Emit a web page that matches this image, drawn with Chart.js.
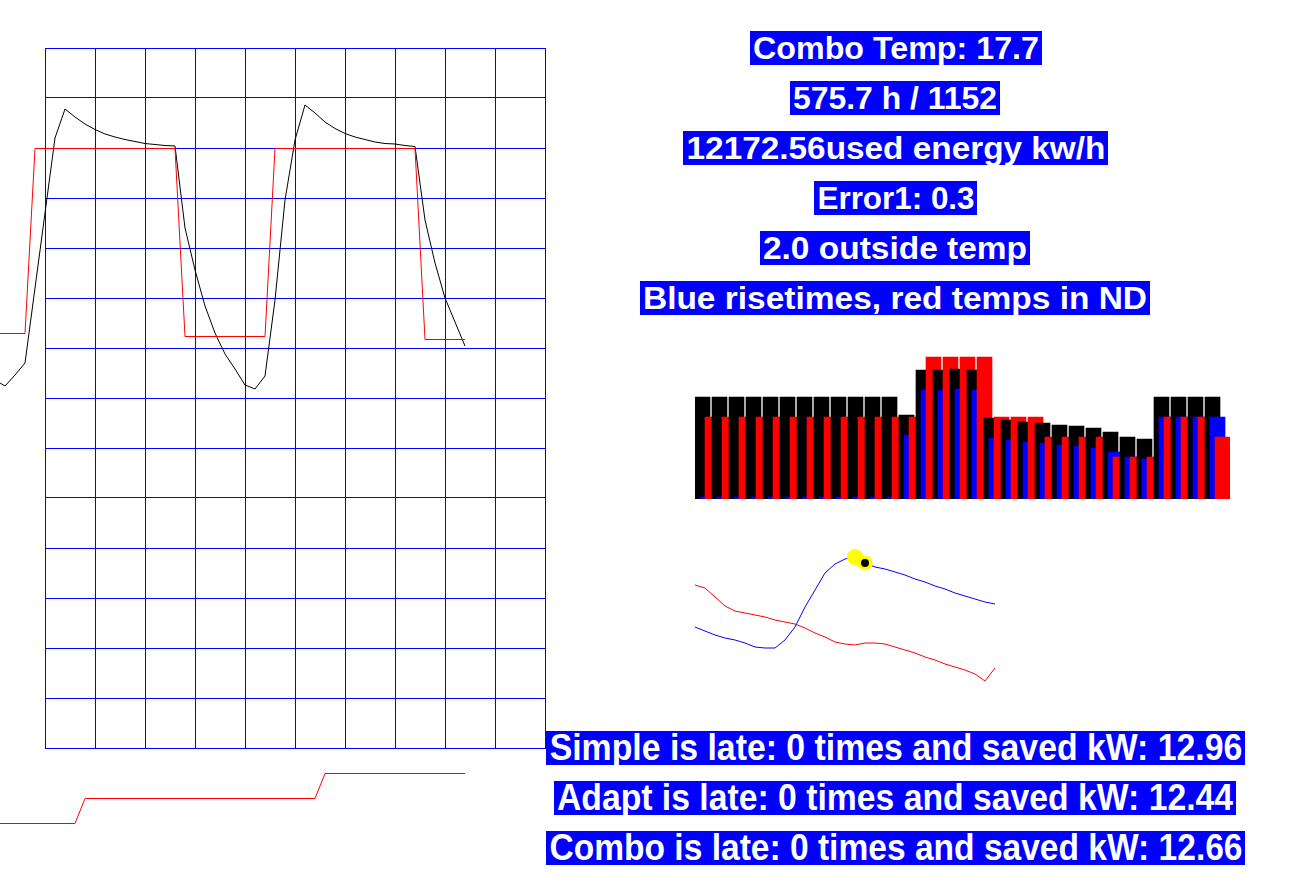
<!DOCTYPE html>
<html>
<head>
<meta charset="utf-8">
<script src="https://cdn.jsdelivr.net/npm/chart.js@4.4.1/dist/chart.umd.min.js"></script>
<style>
  body { margin: 0; background: #fff; width: 1307px; height: 896px; overflow: hidden; position: relative; }
  canvas { position: absolute; }
  .tag { position: absolute; height: 34px; background: #0000ff; overflow: hidden; }
  .tag span { position: absolute; left: 50%; top: 0; line-height: 34px; white-space: nowrap; color: #fff;
              font-family: "Liberation Sans", Arial, sans-serif; font-weight: bold; transform-origin: center; }
</style>
</head>
<body>
<canvas id="curva" width="560" height="840" style="left:0;top:0"></canvas>
<canvas id="barras" width="535" height="160" style="left:695px;top:339px"></canvas>
<canvas id="tendencia" width="310" height="150" style="left:690px;top:540px"></canvas>
<script>
// curva principal: temperatura medida (negro), consigna (rojo) y modo (rojo abajo)
const tempMedida = [7.36, 7.24, 7.46, 7.70, 9.20, 10.70, 12.20, 12.78, 12.62, 12.48, 12.37, 12.28, 12.22, 12.17, 12.13, 12.09,
  12.07, 12.05, 12.04, 10.40, 9.56, 8.84, 8.30, 7.88, 7.58, 7.26, 7.18, 7.44, 8.96, 10.96, 12.16, 12.86,
  12.70, 12.52, 12.39, 12.29, 12.22, 12.17, 12.12, 12.09, 12.08, 12.05, 12.03, 10.56, 9.70, 9.00, 8.52, 8.04];
const consigna = [8.29, 8.29, 8.29, 8.29, 11.99, 11.99, 11.99, 11.99, 11.99, 11.99, 11.99, 11.99, 11.99, 11.99, 11.99, 11.99,
  11.99, 11.99, 11.99, 8.23, 8.23, 8.23, 8.23, 8.23, 8.23, 8.23, 8.23, 8.23, 11.99, 11.99, 11.99, 11.99,
  11.99, 11.99, 11.99, 11.99, 11.99, 11.99, 11.99, 11.99, 11.99, 11.99, 11.99, 8.17, 8.17, 8.17, 8.17, 8.17];
const modo = [-1.51, -1.51, -1.51, -1.51, -1.51, -1.51, -1.51, -1.51, -1.51, -1.01, -1.01, -1.01, -1.01, -1.01, -1.01, -1.01,
  -1.01, -1.01, -1.01, -1.01, -1.01, -1.01, -1.01, -1.01, -1.01, -1.01, -1.01, -1.01, -1.01, -1.01, -1.01, -1.01,
  -1.01, -0.51, -0.51, -0.51, -0.51, -0.51, -0.51, -0.51, -0.51, -0.51, -0.51, -0.51, -0.51, -0.51, -0.51, -0.51];

// barras: negro, azul (risetimes), rojo (temps in ND)
const negro = [5, 5, 5, 5, 5, 5, 5, 5, 5, 5, 5, 5, 4.1, 6.35, 6.35, 6.4, 6.35,
  3.95, 3.85, 3.75, 3.7, 3.6, 3.55, 3.45, 3.25, 3.0, 2.9, 5, 5, 5, 5];
const azul = [0, 0, 0, 0, 0, 0, 0, 0, 0, 0, 0, 0, 3.1, 5.35, 5.35, 5.4, 5.35,
  2.95, 2.85, 2.75, 2.7, 2.6, 2.55, 2.45, 2.25, 2.0, 1.9, 4, 4, 4, 4];
const rojo = [4, 4, 4, 4, 4, 4, 4, 4, 4, 4, 4, 4, 4, 7, 7, 7, 7,
  4, 4, 4, 3, 3, 3, 3, 2, 2, 2, 4, 4, 4, 3];

// tendencia pequeña
const lineaAzul = [6.3, 5.9, 5.5, 5.2, 5.0, 4.7, 4.3, 4.2, 4.2, 5.0, 6.3, 8.3, 10.0, 11.7, 12.6, 13.1,
  13.3, 12.7, 12.3, 12.1, 11.8, 11.5, 11.1, 10.8, 10.4, 10.1, 9.7, 9.4, 9.1, 8.8, 8.6];
const lineaRoja = [10.5, 10.2, 9.3, 8.4, 7.9, 7.7, 7.5, 7.3, 7.0, 6.8, 6.6, 6.2, 5.7, 5.3, 4.8, 4.6,
  4.5, 4.7, 4.7, 4.6, 4.3, 4.0, 3.7, 3.3, 3.0, 2.6, 2.3, 2.0, 1.6, 0.9, 2.2];

const textos = [
  'Combo Temp: 17.7',
  '575.7 h / 1152',
  '12172.56used energy kw/h',
  'Error1: 0.3',
  '2.0 outside temp',
  'Blue risetimes, red temps in ND',
  'Simple is late: 0 times and saved kW: 12.96',
  'Adapt is late: 0 times and saved kW: 12.44',
  'Combo is late: 0 times and saved kW: 12.66'
];
// caja de cada texto: [izquierda, arriba, ancho, tamaño de letra]
const cajas = [
  [750, 31, 292, 32], [790, 81, 210, 32], [683, 131, 425, 32], [814, 181, 163, 32],
  [760, 231, 270, 32], [640, 281, 510, 32],
  [546, 731, 699, 36], [554, 781, 682, 36], [546, 831, 699, 36]
];

const AZUL = '#0000ff', ROJO = '#ff0000', NEGRO = '#000000', AMARILLO = '#ffff00';
const sinEventos = { responsive: false, animation: false, events: [] };
const sinPlugins = { legend: { display: false }, tooltip: { enabled: false } };

function pintarTextos() {
  const medir = document.createElement('canvas').getContext('2d');
  textos.forEach((t, i) => {
    const [x, y, ancho, tam] = cajas[i];
    const caja = document.createElement('div');
    caja.className = 'tag';
    caja.style.left = x + 'px';
    caja.style.top = y + 'px';
    caja.style.width = ancho + 'px';
    const span = document.createElement('span');
    span.textContent = t;
    span.style.fontSize = tam + 'px';
    medir.font = 'bold ' + tam + 'px "Liberation Sans"';
    const k = (ancho - 6) / medir.measureText(t).width;
    span.style.transform = 'translateX(-50%) scaleX(' + k.toFixed(3) + ')';
    caja.appendChild(span);
    document.body.appendChild(caja);
  });
}

function curvaPrincipal() {
  const minutos = tempMedida.map((_, i) => i * 10 - 50);
  const serie = (vals, color) => ({
    data: vals.map((v, i) => ({ x: minutos[i], y: v })),
    borderColor: color, borderWidth: 1, pointRadius: 0, tension: 0, clip: false, fill: false
  });
  const rejilla = { color: AZUL, lineWidth: 1, drawTicks: false };
  new Chart(document.getElementById('curva'), {
    type: 'line',
    data: { datasets: [serie(consigna, ROJO), serie(modo, ROJO), serie(tempMedida, NEGRO)] },
    options: {
      ...sinEventos,
      layout: { padding: { left: 45, top: 48, right: 15, bottom: 92 } },
      plugins: sinPlugins,
      scales: {
        // el rango se fija después de leer los datos para que la línea siga más allá de la rejilla
        x: {
          type: 'linear', ticks: { display: false, stepSize: 50 }, grid: rejilla, border: { color: AZUL },
          afterDataLimits: s => { s.min = 0; s.max = 500; }
        },
        y: {
          ticks: { display: false, stepSize: 1 }, grid: rejilla, border: { color: AZUL },
          afterDataLimits: s => { s.min = 0; s.max = 14; }
        }
      }
    }
  });
}

function barras() {
  const desfase = [0, 5 / 17, 10 / 17];
  const grupos = negro.map((_, i) => ({
    data: [negro[i], azul[i], rojo[i]].map((v, j) => ({ x: i + desfase[j], y: v })),
    backgroundColor: [NEGRO, AZUL, ROJO],
    borderWidth: 0, barThickness: 15, grouped: false, base: -0.1, order: -i
  }));
  new Chart(document.getElementById('barras'), {
    type: 'bar',
    data: { datasets: grupos },
    options: {
      ...sinEventos,
      plugins: sinPlugins,
      scales: {
        x: { type: 'linear', display: false, offset: false, min: -7.5 / 17, max: 527.5 / 17 },
        y: { display: false, min: -0.1, max: 7.9 }
      }
    }
  });
}

function tendencia() {
  const etiquetas = lineaAzul.map((_, i) => i);
  new Chart(document.getElementById('tendencia'), {
    type: 'line',
    data: {
      labels: etiquetas,
      datasets: [{
        data: lineaAzul, borderColor: AZUL, borderWidth: 1, tension: 0, clip: false,
        pointRadius: c => c.dataIndex === 16 ? 8 : c.dataIndex === 17 ? 5.75 : 0,
        pointBackgroundColor: c => c.dataIndex === 17 ? NEGRO : AMARILLO,
        pointBorderColor: AMARILLO,
        pointBorderWidth: c => c.dataIndex === 17 ? 3.5 : 0
      }, {
        data: lineaRoja, borderColor: ROJO, borderWidth: 1, tension: 0, clip: false, pointRadius: 0
      }]
    },
    options: {
      ...sinEventos,
      layout: { padding: { left: 5, right: 5 } },
      plugins: sinPlugins,
      scales: {
        x: { display: false },
        y: { display: false, min: 0, max: 15 }
      }
    }
  });
}

curvaPrincipal();
barras();
tendencia();
pintarTextos();
</script>
</body>
</html>
